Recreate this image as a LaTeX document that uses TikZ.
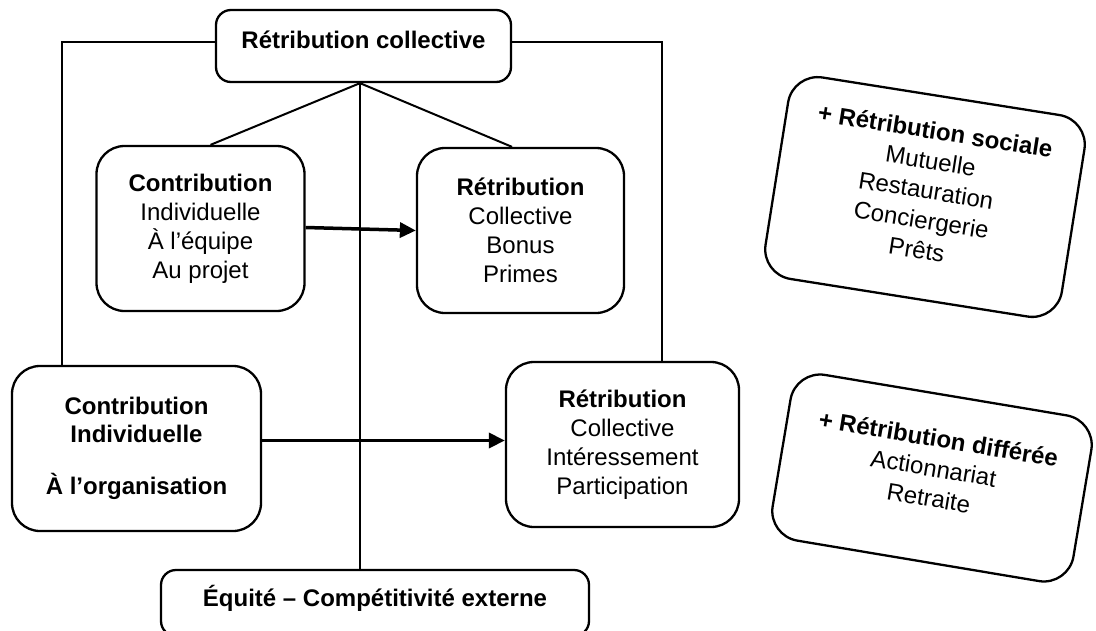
\documentclass[tikz,border=0pt]{standalone}
\usepackage{fontspec}
\setmainfont{Liberation Sans}
\usetikzlibrary{arrows.meta,calc}

\begin{document}
\begin{tikzpicture}[x=1pt,y=-1pt,
  roundbox/.style={draw, line width=2.3pt, rounded corners=28pt, inner sep=0pt,
    align=center, font=\fontsize{24}{29}\selectfont},
  flatbox/.style={draw, line width=2.3pt, rounded corners=15pt, inner sep=0pt},
  tiltbox/.style={draw, line width=2.3pt, rounded corners=30pt, inner sep=0pt},
  txt/.style={inner sep=0pt, align=center, font=\fontsize{24}{30}\selectfont},
  boldtxt/.style={inner sep=0pt, align=center, font=\fontsize{24}{30}\selectfont\bfseries},
  link/.style={line width=2pt},
  arrow/.style={line width=3.5pt, -{Triangle[length=16pt,width=15pt]}}
]
\useasboundingbox (0,0) rectangle (1096,630);

% top and bottom headers
\node[flatbox, minimum width=295pt, minimum height=72pt] (top) at (363.5,46) {};
\node[boldtxt] (toptxt) at (363.5,40) {Rétribution collective};

\node[flatbox, minimum width=428pt, minimum height=66pt] (eq) at (375,603) {};
\node[boldtxt] (eqtxt) at (375,598) {Équité – Compétitivité externe};

% contribution / retribution boxes
\node[roundbox, minimum width=208pt, minimum height=165pt] (contrib) at (200.5,228.5)
  {\textbf{Contribution}\\Individuelle\\À l’équipe\\Au projet};
\node[roundbox, minimum width=207pt, minimum height=165pt] (rmid) at (520.5,230.5)
  {\textbf{Rétribution}\\Collective\\Bonus\\Primes};
\node[roundbox, minimum width=249pt, minimum height=165pt,
  font=\fontsize{24}{28}\selectfont\bfseries] (cind) at (136.5,448.5)
  {Contribution\\Individuelle\\[24pt]À l’organisation};
\node[roundbox, minimum width=233pt, minimum height=165pt] (rbot) at (622.5,444.5)
  {\textbf{Rétribution}\\Collective\\Intéressement\\Participation};

% tilted side boxes
\node[tiltbox, rotate=-9, minimum width=300pt, minimum height=204pt] (soc) at (925,197) {};
\node[txt, rotate=-9] (soctxt) at ($(soc.center)!7pt!(soc.north)$)
  {\textbf{+ Rétribution sociale}\\Mutuelle\\Restauration\\Conciergerie\\Prêts};

\node[tiltbox, rotate=-9.5, minimum width=305pt, minimum height=168pt] (def) at (932,478) {};
\node[txt, rotate=-9.5] (deftxt) at ($(def.center)!10pt!(def.north)$)
  {\textbf{+ Rétribution différée}\\Actionnariat\\Retraite};

% connectors
\coordinate (apex) at ([xshift=-3.5pt]top.south);
\draw[link] ([yshift=4pt]top.west) -| ([xshift=-74.5pt]cind.north);
\draw[link] ([yshift=4pt]top.east) -| ([xshift=39.5pt]rbot.north);
\draw[link] (apex) -- ([xshift=10pt]contrib.north);
\draw[link] (apex) -- ([xshift=-8.5pt]rmid.north);
\draw[link] (apex) -- (apex |- eq.north);

\draw[arrow] ([yshift=1pt]contrib.east) -- (rmid.west);
\draw[arrow] ([yshift=8pt]cind.east) -- ([yshift=8pt]cind.east -| rbot.west);
\end{tikzpicture}
\end{document}
